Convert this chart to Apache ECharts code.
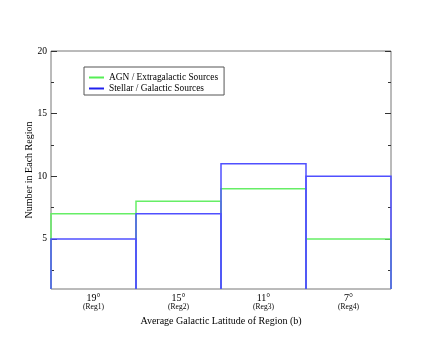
<!DOCTYPE html>
<html>
<head>
<meta charset="utf-8">
<script src="https://cdn.jsdelivr.net/npm/echarts@6/dist/echarts.min.js"></script>
<style>html,body{margin:0;padding:0;background:#fff;}#c{width:440px;height:340px;}</style>
</head>
<body>
<div id="c"></div>
<script>
var regionLat = ['19°', '15°', '11°', '7°'];
var regionName = ['(Reg1)', '(Reg2)', '(Reg3)', '(Reg4)'];
var agnCounts = [7, 8, 9, 5];
var stellarCounts = [5, 7, 11, 10];
var yMajorTicks = [5, 10, 15, 20];
var yMinorTicks = [2.5, 7.5, 12.5, 17.5];
var seriesNames = ['AGN / Extragalactic Sources', 'Stellar / Galactic Sources'];
var colors = ['#66ee66', '#5050ff'];
var legendColors = ['#55ee55', '#2020ee'];

var categories = regionLat.map(function (l, i) { return l + '\n' + regionName[i]; });
var FONT = 'Liberation Serif';
var Y_MIN = 1, Y_MAX = 20;

function tickAxis(pos, values, len, showLabel) {
  return {
    type: 'value', position: pos, min: Y_MIN, max: Y_MAX,
    axisLine: { show: false },
    splitLine: { show: false },
    axisTick: { show: true, inside: true, length: len, customValues: values, lineStyle: { color: '#333', width: 1 } },
    axisLabel: showLabel ? { show: true, customValues: values, fontFamily: FONT, fontSize: 9.6, color: '#000', margin: 4 } : { show: false }
  };
}

var yAxes = [
  tickAxis('left', yMajorTicks, 6, true),
  tickAxis('left', yMinorTicks, 3, false),
  tickAxis('right', yMajorTicks, 6, false),
  tickAxis('right', yMinorTicks, 3, false)
];
yAxes[0].name = 'Number in Each Region';
yAxes[0].nameLocation = 'middle';
yAxes[0].nameGap = 17;
yAxes[0].nameMoveOverlap = false;
yAxes[0].nameTextStyle = { fontFamily: FONT, fontSize: 10, color: '#000' };

function histRender(color) {
  return function (params, api) {
    var idx = api.value(0);
    var v = api.value(1);
    var c = api.coord([idx, v]);
    var base = api.coord([idx, Y_MIN]);
    var w = api.size([1, 0])[0];
    var x0 = c[0] - w / 2, x1 = c[0] + w / 2;
    return {
      type: 'polyline',
      shape: { points: [[x0, base[1]], [x0, c[1]], [x1, c[1]], [x1, base[1]]] },
      style: { stroke: color, lineWidth: 1.5, fill: null }
    };
  };
}

var chart = echarts.init(document.getElementById('c'), null, { renderer: 'canvas' });
chart.setOption({
  animation: false,
  backgroundColor: '#fff',
  grid: { left: 51, top: 51, width: 340, height: 238, show: true, borderColor: '#777', borderWidth: 1, backgroundColor: 'transparent' },
  legend: {
    orient: 'vertical', left: 84, top: 67,
    padding: [6, 6, 2, 5], itemGap: 2,
    borderColor: '#555', borderWidth: 1,
    itemWidth: 15, itemHeight: 2, icon: 'rect',
    textStyle: { fontFamily: FONT, fontSize: 9.4, color: '#000' },
    data: [
      { name: seriesNames[0], itemStyle: { color: legendColors[0], borderWidth: 0 } },
      { name: seriesNames[1], itemStyle: { color: legendColors[1], borderWidth: 0 } }
    ]
  },
  xAxis: {
    type: 'category', data: categories, boundaryGap: true,
    axisLine: { show: false }, axisTick: { show: false }, splitLine: { show: false },
    axisLabel: {
      margin: 4, interval: 0,
      formatter: function (v) { var p = v.split('\n'); return '{a|' + p[0] + '}\n{b|' + p[1] + '}'; },
      rich: {
        a: { fontFamily: FONT, fontSize: 10, color: '#000', lineHeight: 10 },
        b: { fontFamily: FONT, fontSize: 7.5, color: '#000', lineHeight: 9 }
      }
    },
    name: 'Average Galactic Latitude of Region (b)',
    nameLocation: 'middle', nameGap: 24,
    nameTextStyle: { fontFamily: FONT, fontSize: 10, color: '#000' }
  },
  yAxis: yAxes,
  series: [
    {
      name: seriesNames[0], type: 'custom', yAxisIndex: 0,
      itemStyle: { color: legendColors[0] },
      data: agnCounts.map(function (v, i) { return [i, v]; }),
      renderItem: histRender(colors[0]),
      silent: true
    },
    {
      name: seriesNames[1], type: 'custom', yAxisIndex: 0,
      itemStyle: { color: legendColors[1] },
      data: stellarCounts.map(function (v, i) { return [i, v]; }),
      renderItem: histRender(colors[1]),
      silent: true
    }
  ]
});
</script>
</body>
</html>
